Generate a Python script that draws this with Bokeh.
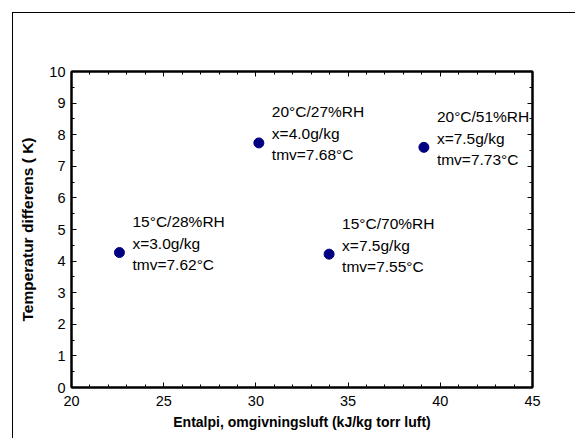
from bokeh.plotting import figure
from bokeh.models import ColumnDataSource, LinearAxis, SingleIntervalTicker
from bokeh.core.properties import value
from bokeh.embed import file_html
from bokeh.resources import INLINE

# Data
enthalpy = [22.6, 30.16, 33.97, 39.11]
temp_diff = [4.27, 7.74, 4.22, 7.60]
conditions = ["15°C/28%RH", "20°C/27%RH", "15°C/70%RH", "20°C/51%RH"]
humidity = ["x=3.0g/kg", "x=4.0g/kg", "x=7.5g/kg", "x=7.5g/kg"]
tmv = ["tmv=7.62°C", "tmv=7.68°C", "tmv=7.55°C", "tmv=7.73°C"]
x_title = "Entalpi, omgivningsluft (kJ/kg torr luft)"
y_title = "Temperatur differens ( K)"

FONT = "Liberation Sans"

p = figure(width=563, height=426, x_range=(20, 45), y_range=(0, 10),
           output_backend="svg", toolbar_location=None,
           min_border_left=58, min_border_right=44,
           min_border_top=58, min_border_bottom=52,
           x_axis_location=None, y_axis_location=None)
p.styles = {"margin-left": "12px", "margin-top": "12px",
            "border-left": "1px solid black", "border-top": "1px solid black"}
p.grid.visible = False
p.outline_line_color = "black"
p.outline_line_width = 2
p.background_fill_color = "white"
p.border_fill_color = "white"

def make_axis(kind, show_labels, title=None):
    if kind == "x":
        ticker = SingleIntervalTicker(interval=5, num_minor_ticks=5)
    else:
        ticker = SingleIntervalTicker(interval=1, num_minor_ticks=2)
    ax = LinearAxis(ticker=ticker)
    ax.axis_line_width = 2
    ax.axis_line_color = "black"
    ax.major_tick_in = 5
    ax.major_tick_out = 0
    ax.minor_tick_in = 3
    ax.minor_tick_out = 0
    ax.major_tick_line_color = "black"
    ax.minor_tick_line_color = "black"
    ax.major_tick_line_width = 1
    ax.minor_tick_line_width = 1
    ax.major_label_text_font = FONT
    ax.major_label_text_font_size = "14.5px"
    if show_labels:
        ax.major_label_text_color = "black"
        ax.major_label_standoff = 8 if kind == "x" else 6
    else:
        ax.major_label_text_color = None
        ax.major_label_standoff = 0
    if title:
        ax.axis_label = title
        ax.axis_label_text_font = FONT
        ax.axis_label_text_font_style = "bold"
        ax.axis_label_text_color = "black"
        ax.axis_label_text_font_size = "14px" if kind == "x" else "15.5px"
        ax.axis_label_standoff = 5 if kind == "x" else 10
    return ax

p.add_layout(make_axis("x", True, x_title), "below")
p.add_layout(make_axis("y", True, y_title), "left")
p.add_layout(make_axis("x", False), "above")
p.add_layout(make_axis("y", False), "right")

src = ColumnDataSource(dict(x=enthalpy, y=temp_diff, c=conditions, h=humidity, t=tmv))

p.scatter("x", "y", source=src, size=10, fill_color="#000080", line_color="#000080")

for col, yoff in (("c", -31), ("h", -9), ("t", 12)):
    p.text("x", "y", text=col, source=src, x_offset=13, y_offset=yoff,
           text_font=value(FONT), text_font_size="15.5px",
           text_baseline="middle", text_align="left", text_color="black")

open("out.html", "w").write(file_html(p, INLINE))
